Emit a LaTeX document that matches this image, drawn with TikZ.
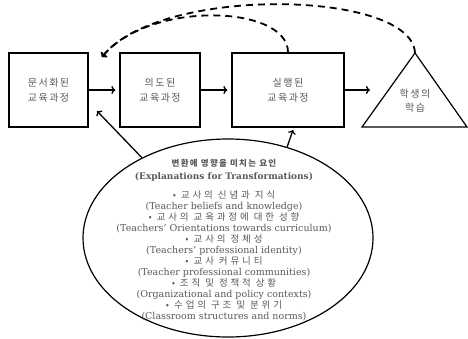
\documentclass[tikz,border=0pt]{standalone}
\usepackage{fontspec}
\setmainfont{DejaVu Serif}
\newfontfamily\kr[LetterSpace=15]{Noto Sans CJK KR}
\newfontfamily\krwide[LetterSpace=30]{Noto Sans CJK KR}
\usetikzlibrary{shapes.geometric,arrows.meta}
\tikzset{
  stage/.style={draw, line width=1.2pt, minimum height=74pt, inner sep=0pt,
    text=black!65, align=center, font=\kr\fontsize{10}{15}\selectfont},
  flow/.style={line width=1.3pt, -{To[length=4pt,width=8pt]}},
  back/.style={line width=1.8pt, dash pattern=on 7pt off 5pt, -{To[length=4pt,width=8pt]}},
}
\begin{document}
\begin{tikzpicture}[x=1pt, y=-1pt]
  \useasboundingbox (0,0) rectangle (468,338);
  % curriculum stages
  \node[stage, minimum width=79pt] (written) at (48.5,90) {문서화된\\교육과정};
  \node[stage, minimum width=80pt] (intended) at (160,90) {의도된\\교육과정};
  \node[stage, minimum width=112pt] (enacted) at (288,90) {실행된\\교육과정};
  \coordinate (apex) at (415,53);
  \coordinate (baseL) at (362,127);
  \coordinate (baseR) at (467,127);
  \draw[line width=1.2pt] (apex) -- (baseL) -- (baseR) -- cycle;
  \node[text=black!65, align=center, font=\kr\fontsize{10}{14}\selectfont] (learning) at (415,101) {학생의\\학습};
  % factors
  \node[ellipse, draw, line width=1.2pt, minimum width=290pt, minimum height=198pt,
    inner sep=0pt] (factors) at (228,238) {};
  \node[align=center, text=black!65, font=\fontsize{9.5}{11}\selectfont] (factorText) at (224,240)
    {{\kr\bfseries\fontsize{8.5}{11}\selectfont 변환에 영향을 미치는 요인}\\[2pt]
     {\bfseries\fontsize{9}{11}\selectfont (Explanations for Transformations)}\\[8pt]
     {\krwide • 교사의 신념과 지식}\\
     (Teacher beliefs and knowledge)\\
     {\krwide • 교사의 교육과정에 대한 성향}\\
     (Teachers' Orientations towards curriculum)\\
     {\krwide • 교사의 정체성}\\
     (Teachers' professional identity)\\
     {\krwide • 교사 커뮤니티}\\
     (Teacher professional communities)\\
     {\krwide • 조직 및 정책적 상황}\\
     (Organizational and policy contexts)\\
     {\krwide • 수업의 구조 및 분위기}\\
     (Classroom structures and norms)};
  \coordinate (toWritten) at (97,111);
  \coordinate (toEnacted) at (293,130);
  \coordinate (toLearning) at (370,90);
  % connectors
  \draw[flow, shorten >=4pt] (written) -- (intended);
  \draw[flow, shorten >=4pt] (intended) -- (enacted);
  \draw[flow] (enacted) -- (toLearning);
  \draw[flow] (factors.137) -- (toWritten);
  \draw[flow] (factors.57) -- (toEnacted);
  \draw[back] (enacted.north) .. controls (288,5) and (150,0) .. (102,57);
  \draw[back] (apex) .. controls (412,-10) and (160,-15) .. (102,57);
\end{tikzpicture}
\end{document}
